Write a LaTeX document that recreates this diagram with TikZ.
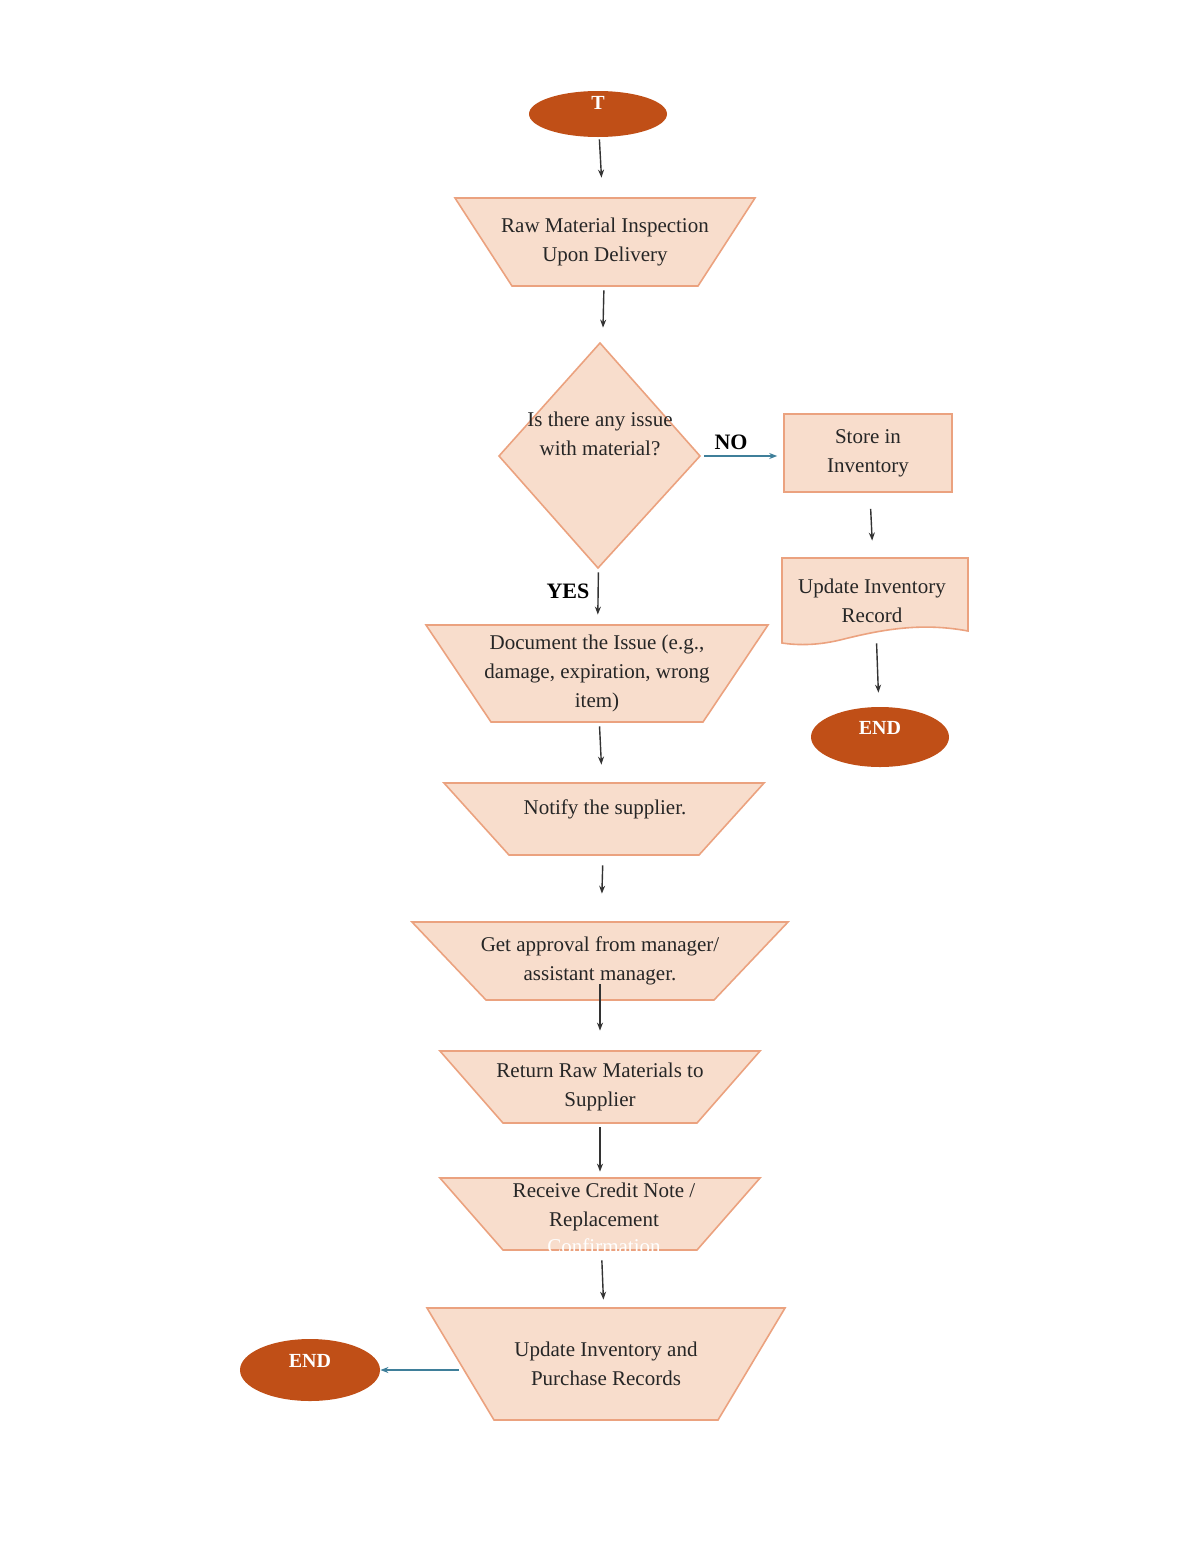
\documentclass[tikz,border=0pt]{standalone}
\usepackage{fontspec}
\setmainfont{Liberation Serif}
\usetikzlibrary{arrows.meta,shapes.geometric}
\definecolor{pfill}{HTML}{F8DDCC}
\definecolor{pedge}{HTML}{EBA27F}
\definecolor{termc}{HTML}{C04F17}
\definecolor{tealc}{HTML}{3F7F9A}
\begin{document}
\begin{tikzpicture}[x=0.5pt,y=-0.5pt,
  box/.style={fill=pfill,draw=pedge,line width=0.8pt},
  txt/.style={align=center,font=\fontsize{10.5}{14.5}\selectfont,text=black!85},
  termn/.style={ellipse,fill=termc,draw=none},
  ttxt/.style={text=white,font=\fontsize{10}{12}\selectfont\bfseries},
  arr/.style={-{Stealth[length=4pt,width=3pt]},line width=0.7pt,black!80},
  tarr/.style={-{Stealth[length=4pt,width=3pt]},line width=0.7pt,tealc},
  lbl/.style={font=\fontsize{11}{13}\selectfont\bfseries}]
\useasboundingbox (0,0) rectangle (1200,1553);
\newcommand{\trap}[7]{%
  \draw[box] (#2-#5,#3) -- (#2+#5,#3) -- (#2+#6,#4) -- (#2-#6,#4) -- cycle;
  \node[inner sep=0,minimum width=2*#5*0.5pt,minimum height=(#4-#3)*0.5pt] (#1) at (#2,{(#3+#4)/2}) {};
  \node[txt] at (#1) {#7};}
% start
\node[termn,minimum width=69pt,minimum height=23pt] (start) at (598,114) {};
\node[ttxt] at (598,103) {T};
\trap{insp}{605}{198}{286}{150}{93}{Raw Material Inspection\\Upon Delivery}
\draw[box] (600,343) -- (700,456) -- (598,568) -- (499,456) -- cycle;
\node[inner sep=0,minimum width=100pt,minimum height=112pt] (dec) at (600,456) {};
\node[txt] at (600,434) {Is there any issue\\with material?};
\node[box,txt,minimum width=84pt,minimum height=39pt] (store) at (868,453) {Store in\\Inventory};
\draw[box] (782,558) -- (968,558) -- (968,631) .. controls (920,622) and (880,630) .. (840,640) .. controls (815,646) and (795,645) .. (782,643) -- cycle;
\node[inner sep=0,minimum width=93pt,minimum height=43pt] (upd) at (875,600) {};
\node[txt] at (872,601) {Update Inventory\\Record};
\node[termn,minimum width=69pt,minimum height=30pt] (end1) at (880,737) {};
\node[ttxt] at (880,728) {END};
\trap{doc}{597}{625}{722}{171}{106}{Document the Issue (e.g.,\\damage, expiration, wrong\\item)}
\trap{notify}{604}{783}{855}{160}{95}{}
\node[txt] at (605,809) {Notify the supplier.};
\trap{appr}{600}{922}{1000}{188}{114}{Get approval from manager/\\assistant manager.}
\trap{ret}{600}{1051}{1123}{160}{97}{Return Raw Materials to\\Supplier}
\trap{recv}{600}{1178}{1250}{160}{97}{}
\node[txt] at (604,1207) {Receive Credit Note /\\Replacement};
\node[txt,text=white] at (604,1246) {Confirmation};
\trap{updp}{606}{1308}{1420}{179}{112}{Update Inventory and\\Purchase Records}
\node[termn,minimum width=70pt,minimum height=31pt] (end2) at (310,1370) {};
\node[ttxt] at (310,1361) {END};
% connectors
\draw[arr,shorten <=1pt,shorten >=10pt] (start) -- (insp);
\draw[arr,shorten <=2pt,shorten >=8pt] (insp) -- (dec);
\draw[tarr,shorten <=2pt,shorten >=3pt] (dec.east) -- (store.west |- dec.east);
\node[lbl] at (731,442) {NO};
\draw[arr,shorten <=8pt,shorten >=8pt] (store) -- (upd);
\draw[arr,shorten <=0pt,shorten >=7pt] (upd) -- (end1);
\draw[arr,shorten <=2pt,shorten >=5pt] (dec) -- (doc);
\node[lbl] at (568,591) {YES};
\draw[arr,shorten <=2pt,shorten >=9pt] (doc) -- (notify);
\draw[arr,shorten <=5pt,shorten >=14pt] (notify) -- (appr);
\draw[arr,shorten <=-8pt,shorten >=10pt] (appr) -- (ret);
\draw[arr,shorten <=2pt,shorten >=3pt] (ret) -- (recv);
\draw[arr,shorten <=5pt,shorten >=4pt] (recv) -- (updp);
\draw[tarr,shorten <=-16pt,shorten >=0pt] (updp.west |- end2) -- (end2);
\end{tikzpicture}
\end{document}
